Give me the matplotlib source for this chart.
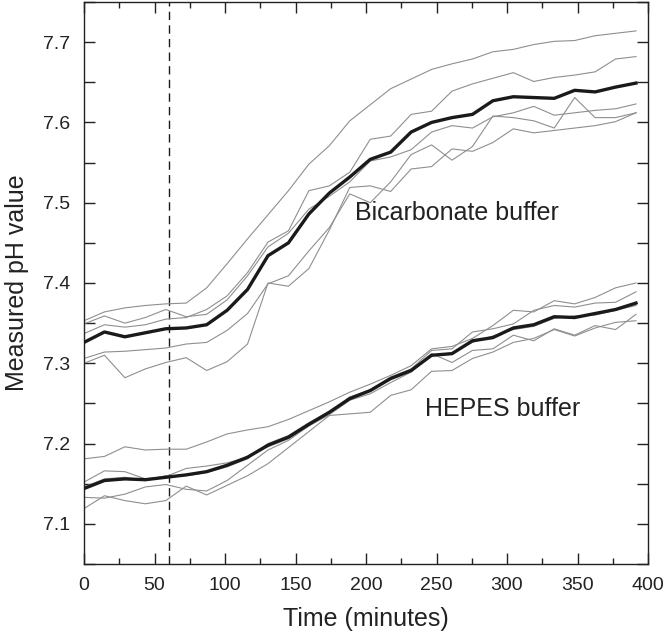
import matplotlib as mpl
import matplotlib.pyplot as plt
from matplotlib import font_manager
from matplotlib.ticker import MultipleLocator, FormatStrFormatter

mpl.use('Agg')

# Sampling times (minutes).
times = [0, 14.5, 29, 43.5, 58, 72.5, 87, 101.5, 116, 130.5, 145, 159.5, 174, 188.5,
         203, 217.5, 232, 246.5, 261, 275.5, 290, 304.5, 319, 333.5, 348, 362.5, 377, 391.5]

# Bicarbonate buffer: individual runs and mean.
bicarb_runs = [
    [7.353, 7.364, 7.369, 7.372, 7.374, 7.375, 7.394, 7.424, 7.455, 7.485, 7.515, 7.548, 7.571, 7.602,
     7.622, 7.642, 7.654, 7.666, 7.673, 7.679, 7.688, 7.691, 7.697, 7.701, 7.702, 7.708, 7.711, 7.714],
    [7.337, 7.348, 7.345, 7.348, 7.355, 7.357, 7.367, 7.384, 7.413, 7.451, 7.465, 7.515, 7.521, 7.538,
     7.579, 7.583, 7.610, 7.614, 7.639, 7.648, 7.655, 7.662, 7.651, 7.656, 7.659, 7.663, 7.679, 7.682],
    [7.349, 7.359, 7.350, 7.357, 7.367, 7.358, 7.361, 7.379, 7.409, 7.445, 7.462, 7.492, 7.508, 7.526,
     7.552, 7.557, 7.566, 7.588, 7.596, 7.593, 7.607, 7.612, 7.620, 7.609, 7.612, 7.615, 7.617, 7.623],
    [7.306, 7.314, 7.315, 7.317, 7.319, 7.324, 7.326, 7.341, 7.362, 7.399, 7.409, 7.440, 7.469, 7.511,
     7.500, 7.526, 7.560, 7.572, 7.553, 7.570, 7.608, 7.606, 7.602, 7.593, 7.631, 7.606, 7.606, 7.612],
    [7.300, 7.310, 7.282, 7.293, 7.301, 7.307, 7.291, 7.302, 7.324, 7.400, 7.396, 7.418, 7.466, 7.519,
     7.521, 7.514, 7.542, 7.545, 7.567, 7.564, 7.575, 7.592, 7.587, 7.590, 7.593, 7.596, 7.601, 7.612],
]
bicarb_mean = [7.326, 7.339, 7.333, 7.338, 7.343, 7.344, 7.348, 7.366, 7.392, 7.434, 7.450, 7.486, 7.512, 7.532,
               7.554, 7.563, 7.588, 7.600, 7.606, 7.610, 7.627, 7.632, 7.631, 7.630, 7.640, 7.638, 7.644, 7.649]

# HEPES buffer: individual runs and mean.
hepes_runs = [
    [7.181, 7.184, 7.196, 7.192, 7.193, 7.193, 7.202, 7.212, 7.217, 7.221, 7.230, 7.241, 7.252, 7.264,
     7.274, 7.285, 7.297, 7.318, 7.321, 7.331, 7.347, 7.366, 7.364, 7.378, 7.374, 7.382, 7.394, 7.400],
    [7.152, 7.166, 7.165, 7.156, 7.159, 7.169, 7.172, 7.176, 7.183, 7.196, 7.206, 7.222, 7.238, 7.258,
     7.267, 7.283, 7.293, 7.316, 7.318, 7.339, 7.343, 7.349, 7.366, 7.372, 7.370, 7.375, 7.376, 7.389],
    [7.133, 7.132, 7.137, 7.146, 7.149, 7.143, 7.141, 7.154, 7.173, 7.192, 7.204, 7.222, 7.236, 7.254,
     7.262, 7.276, 7.289, 7.312, 7.301, 7.316, 7.318, 7.335, 7.328, 7.343, 7.335, 7.347, 7.342, 7.361],
    [7.119, 7.135, 7.129, 7.125, 7.129, 7.147, 7.136, 7.148, 7.160, 7.175, 7.195, 7.215, 7.235, 7.237,
     7.239, 7.260, 7.267, 7.290, 7.291, 7.306, 7.314, 7.326, 7.331, 7.342, 7.334, 7.344, 7.351, 7.353],
    [7.146, 7.156, 7.158, 7.154, 7.160, 7.160, 7.164, 7.171, 7.181, 7.200, 7.210, 7.226, 7.240, 7.258,
     7.265, 7.280, 7.290, 7.309, 7.313, 7.326, 7.334, 7.342, 7.346, 7.356, 7.359, 7.360, 7.366, 7.372],
]
hepes_mean = [7.144, 7.154, 7.156, 7.155, 7.158, 7.161, 7.165, 7.173, 7.183, 7.198, 7.208, 7.224, 7.239, 7.256,
              7.266, 7.281, 7.291, 7.310, 7.312, 7.328, 7.332, 7.344, 7.348, 7.358, 7.357, 7.362, 7.367, 7.375]

treatment_time = 60

# Tick labels look condensed in the original, use the narrow face if it is there.
installed = {f.name for f in font_manager.fontManager.ttflist}
if 'Liberation Sans Narrow' in installed:
    tick_family, tick_size = ['Liberation Sans Narrow', 'Liberation Sans'], 16
else:
    tick_family, tick_size = ['Liberation Sans', 'DejaVu Sans'], 14

plt.rcParams['font.family'] = ['Liberation Sans', 'DejaVu Sans']
plt.rcParams['axes.linewidth'] = 1.0
plt.rcParams['axes.edgecolor'] = '#222222'

fig = plt.figure(figsize=(6.64, 6.42), dpi=100)
ax = fig.add_axes([84 / 664, 1 - 564 / 642, (648 - 84) / 664, (564 - 2) / 642])

grey, ink = '#8f8f8f', '#1a1a1a'
for run in bicarb_runs + hepes_runs:
    ax.plot(times, run, color=grey, linewidth=0.8, zorder=2)
ax.plot(times, bicarb_mean, color=ink, linewidth=2.4, zorder=3)
ax.plot(times, hepes_mean, color=ink, linewidth=2.4, zorder=3)

ax.axvline(x=treatment_time, color=ink, linewidth=1.0, dashes=(6, 3.8), zorder=1)

ax.text(x=192, y=7.478, s='Bicarbonate buffer', size=18, color='#222222', ha='left', va='baseline')
ax.text(x=242, y=7.234, s='HEPES buffer', size=18, color='#222222', ha='left', va='baseline')

ax.set_xlim(left=0, right=400)
ax.set_ylim(bottom=7.05, top=7.75)
ax.xaxis.set_major_locator(MultipleLocator(50))
ax.xaxis.set_minor_locator(MultipleLocator(25))
ax.yaxis.set_major_locator(MultipleLocator(0.1))
ax.yaxis.set_minor_locator(MultipleLocator(0.05))
ax.yaxis.set_major_formatter(FormatStrFormatter('%.1f'))

ax.tick_params(which='both', direction='in', top=True, right=True, width=1.0, color='#222222')
ax.tick_params(axis='x', which='major', length=8, pad=9)
ax.tick_params(axis='x', which='minor', length=4.5)
ax.tick_params(axis='y', which='major', length=8, pad=10)
ax.tick_params(axis='y', which='minor', length=8)
for label in ax.get_xticklabels() + ax.get_yticklabels():
    label.set_family(tick_family)
    label.set_size(tick_size)
    label.set_color('#222222')

ax.set_xlabel('Time (minutes)', size=18, color='#222222', labelpad=10)
ax.set_ylabel('Measured pH value', size=18, color='#222222', labelpad=10)

fig.savefig('out.png', dpi=100)
